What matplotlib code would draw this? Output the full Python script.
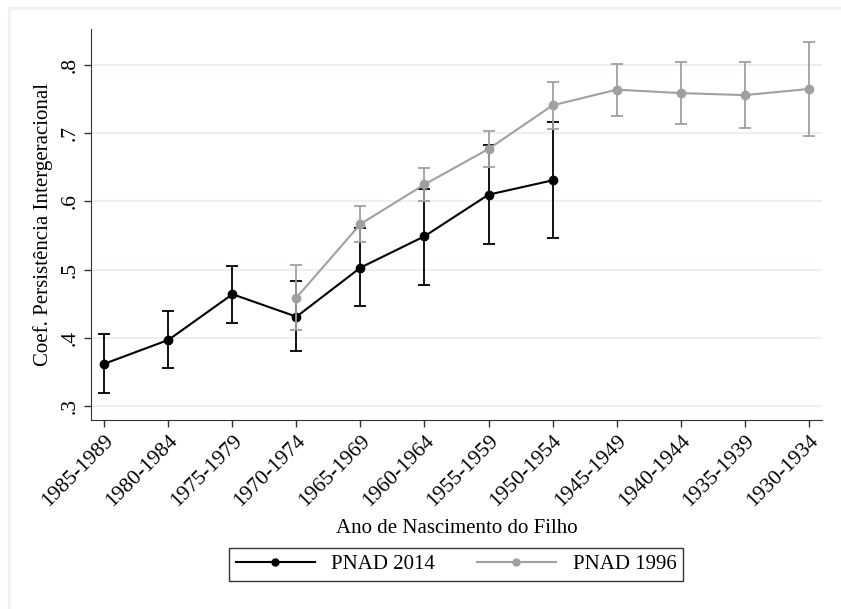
import matplotlib
matplotlib.use("Agg")
import matplotlib.pyplot as plt
from matplotlib.lines import Line2D
import numpy as np

categories = ["1985-1989", "1980-1984", "1975-1979", "1970-1974", "1965-1969",
              "1960-1964", "1955-1959", "1950-1954", "1945-1949", "1940-1944",
              "1935-1939", "1930-1934"]

# PNAD 2014 (first 8 cohorts)
pnad2014 = [0.362, 0.397, 0.464, 0.431, 0.503, 0.549, 0.610, 0.631]
pnad2014_lo = [0.319, 0.356, 0.422, 0.380, 0.446, 0.478, 0.538, 0.546]
pnad2014_hi = [0.406, 0.439, 0.506, 0.483, 0.561, 0.619, 0.683, 0.716]

# PNAD 1996 (from 1970-1974 onwards)
pnad1996 = [0.459, 0.567, 0.625, 0.677, 0.741, 0.764, 0.759, 0.756, 0.765]
pnad1996_lo = [0.411, 0.541, 0.601, 0.650, 0.707, 0.726, 0.713, 0.708, 0.696]
pnad1996_hi = [0.507, 0.594, 0.649, 0.704, 0.775, 0.802, 0.805, 0.805, 0.834]

yticks = [0.3, 0.4, 0.5, 0.6, 0.7, 0.8]
yticklabels = [".3", ".4", ".5", ".6", ".7", ".8"]

plt.rcParams['font.family'] = ['Liberation Serif', 'DejaVu Serif']

W, H = 841, 609
fig = plt.figure(figsize=(W / 100, H / 100), dpi=100)
ax = fig.add_axes([91 / W, 1 - 420 / H, (822 - 91) / W, (420 - 29) / H])

x_all = np.arange(len(categories))
x14 = x_all[:len(pnad2014)]
x96 = x_all[3:3 + len(pnad1996)]

black = "#000000"
gray = "#a0a0a0"

def draw(x, y, lo, hi, color, z):
    y = np.array(y); lo = np.array(lo); hi = np.array(hi)
    ax.errorbar(x, y, yerr=[y - lo, hi - y], fmt='none', ecolor=color,
                elinewidth=1.3, capsize=4, capthick=1.3, zorder=z)
    ax.plot(x, y, color=color, lw=1.5, marker='o', ms=6, zorder=z + 0.5)

draw(x14, pnad2014, pnad2014_lo, pnad2014_hi, black, 3)
draw(x96, pnad1996, pnad1996_lo, pnad1996_hi, gray, 4)

ax.set_xlim(-0.21, 11.21)
ax.set_ylim(0.2795, 0.853)
ax.set_yticks(yticks)
ax.set_yticklabels(yticklabels, rotation=90, va='center', fontsize=15.5)
ax.set_xticks(x_all)
ax.set_xticklabels(categories, rotation=45, ha='right', rotation_mode='anchor', fontsize=15.5)
ax.grid(axis='y', color='#eaf1f3', lw=1.5)
ax.set_axisbelow(True)
for s in ['top', 'right']:
    ax.spines[s].set_visible(False)
ax.spines['left'].set_color('#333333')
ax.spines['bottom'].set_color('#333333')
ax.tick_params(axis='both', length=5, width=1, color='#333333', pad=3)

ax.set_ylabel("Coef. Persistência Intergeracional", fontsize=15, labelpad=6)
ax.set_xlabel("Ano de Nascimento do Filho", fontsize=15, labelpad=6)

handles = [Line2D([], [], color=black, lw=1.5, marker='o', ms=5),
           Line2D([], [], color=gray, lw=1.5, marker='o', ms=5)]
leg = fig.legend(handles, ["PNAD 2014", "PNAD 1996"], ncol=2,
                 loc='center', bbox_to_anchor=(456 / W, 1 - 564.5 / H),
                 fontsize=15, frameon=True, fancybox=False, edgecolor='black',
                 handlelength=3.8, columnspacing=2.0, borderpad=0.3)
leg.get_frame().set_linewidth(1.0)

# light outer frame lines
fig.add_artist(Line2D([9 / W, 1], [1 - 8 / H, 1 - 8 / H], color='#edf2f5', lw=2, transform=fig.transFigure))
fig.add_artist(Line2D([9 / W, 9 / W], [0, 1 - 8 / H], color='#edf2f5', lw=2, transform=fig.transFigure))

fig.savefig("out.png", dpi=100)
